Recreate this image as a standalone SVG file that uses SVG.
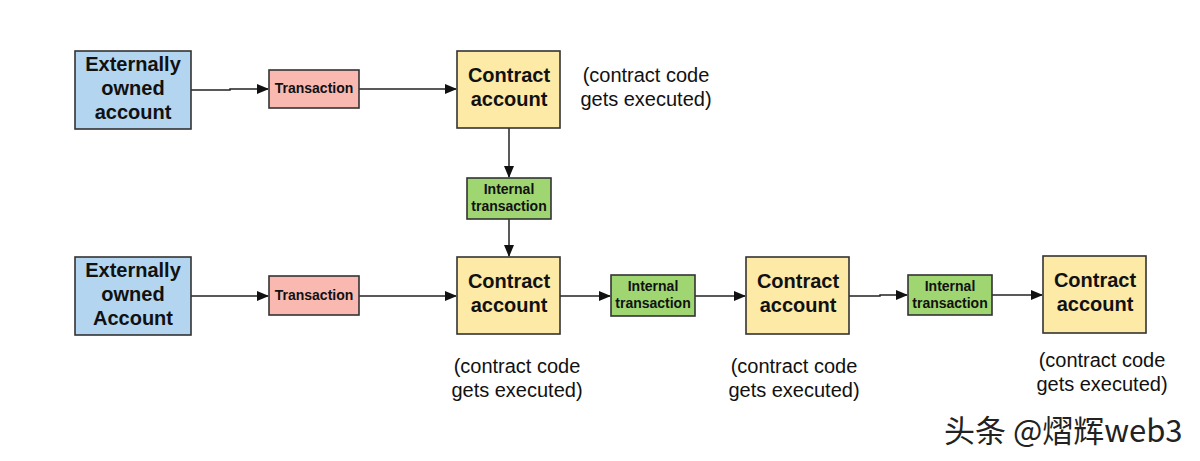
<svg xmlns="http://www.w3.org/2000/svg" width="1200" height="461" viewBox="0 0 1200 461">
<defs>
<marker id="arr" markerWidth="12" markerHeight="10" refX="11" refY="5" orient="auto" markerUnits="userSpaceOnUse">
<path d="M0,0 L12,5 L0,10 z" fill="#111"/>
</marker>
<style>
.box{stroke:#333;stroke-width:1.6}
.eoa{fill:#b3d5ef}
.tx{fill:#f9b9b1}
.ca{fill:#fdeaa7}
.itx{fill:#a0d672}
.big{font-family:"Liberation Sans",Arial,sans-serif;font-weight:bold;font-size:20px;fill:#111;text-anchor:middle}
.sm{font-family:"Liberation Sans",Arial,sans-serif;font-weight:bold;font-size:14px;fill:#111;text-anchor:middle}
.lbl{font-family:"Liberation Sans",Arial,sans-serif;font-size:20px;fill:#111;text-anchor:middle}
.wm{font-family:"Noto Sans CJK SC","Liberation Sans",sans-serif;font-size:31px;fill:#222}
.conn line,.conn polyline{stroke:#222;stroke-width:1.5;fill:none;marker-end:url(#arr)}
</style>
</defs>
<rect width="1200" height="461" fill="#fff"/>
<g class="conn" id="connectors">
<polyline points="191,90 230,90 230,89 268,89"/>
<line x1="359" y1="89" x2="456" y2="89"/>
<line x1="509" y1="128" x2="509" y2="177"/>
<line x1="509" y1="219" x2="509" y2="256"/>
<line x1="191" y1="296" x2="268" y2="296"/>
<line x1="359" y1="296" x2="456" y2="296"/>
<line x1="560" y1="296" x2="610" y2="296"/>
<line x1="695" y1="296" x2="745" y2="296"/>
<polyline points="849,296 880,296 880,295 907,295"/>
<line x1="992" y1="295" x2="1042" y2="295"/>
</g>
<g id="eoa1"><rect class="box eoa" x="75" y="51" width="116" height="78"/>
<text class="big" x="133" y="71">Externally</text><text class="big" x="133" y="95">owned</text><text class="big" x="133" y="119">account</text></g>
<g id="tx1"><rect class="box tx" x="269" y="70" width="90" height="38"/><text class="sm" x="314" y="93">Transaction</text></g>
<g id="ca1"><rect class="box ca" x="457" y="51" width="103" height="77"/>
<text class="big" x="509" y="82">Contract</text><text class="big" x="509" y="106">account</text></g>
<g id="lbl1"><text class="lbl" x="646" y="82">(contract code</text><text class="lbl" x="646" y="106">gets executed)</text></g>
<g id="itx1"><rect class="box itx" x="467" y="178" width="84" height="41"/>
<text class="sm" x="509" y="194">Internal</text><text class="sm" x="509" y="211">transaction</text></g>
<g id="eoa2"><rect class="box eoa" x="75" y="257" width="116" height="78"/>
<text class="big" x="133" y="277">Externally</text><text class="big" x="133" y="301">owned</text><text class="big" x="133" y="325">Account</text></g>
<g id="tx2"><rect class="box tx" x="269" y="276" width="90" height="39"/><text class="sm" x="314" y="300">Transaction</text></g>
<g id="ca2"><rect class="box ca" x="457" y="257" width="103" height="77"/>
<text class="big" x="509" y="288">Contract</text><text class="big" x="509" y="312">account</text></g>
<g id="lbl2"><text class="lbl" x="517" y="373">(contract code</text><text class="lbl" x="517" y="397">gets executed)</text></g>
<g id="itx2"><rect class="box itx" x="611" y="275" width="84" height="41"/>
<text class="sm" x="653" y="291">Internal</text><text class="sm" x="653" y="308">transaction</text></g>
<g id="ca3"><rect class="box ca" x="746" y="257" width="103" height="77"/>
<text class="big" x="798" y="288">Contract</text><text class="big" x="798" y="312">account</text></g>
<g id="lbl3"><text class="lbl" x="794" y="373">(contract code</text><text class="lbl" x="794" y="397">gets executed)</text></g>
<g id="itx3"><rect class="box itx" x="908" y="275" width="84" height="40"/>
<text class="sm" x="950" y="291">Internal</text><text class="sm" x="950" y="308">transaction</text></g>
<g id="ca4"><rect class="box ca" x="1043" y="256" width="103" height="77"/>
<text class="big" x="1095" y="287">Contract</text><text class="big" x="1095" y="311">account</text></g>
<g id="lbl4"><text class="lbl" x="1102" y="367">(contract code</text><text class="lbl" x="1102" y="391">gets executed)</text></g>
<text class="wm" x="944" y="442">头条 @熠辉web3</text>
</svg>
